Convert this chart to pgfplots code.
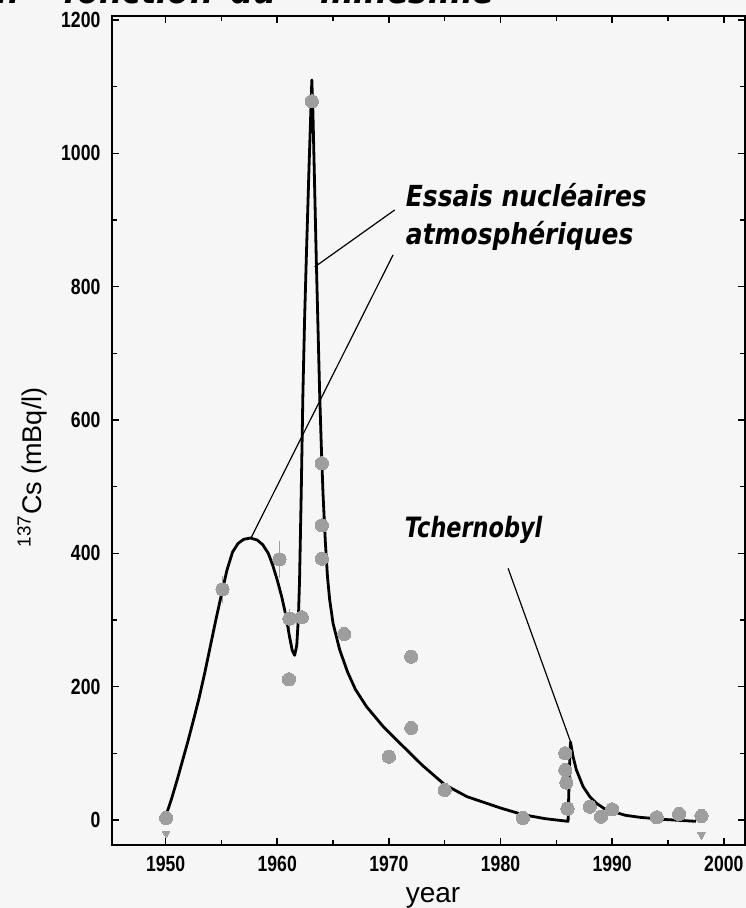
\documentclass[border=0pt]{standalone}
\usepackage{fontspec}
\setmainfont{Liberation Sans}
\newfontfamily\comic{DejaVu Sans}
\usepackage{pgfplots}
\pgfplotsset{compat=1.18}
\usetikzlibrary{calc}
\definecolor{dotgray}{RGB}{158,158,158}
\definecolor{bggray}{RGB}{246,246,246}

\begin{document}
\begin{tikzpicture}
\fill[bggray] (-56pt,-31.5pt) rectangle (316.9pt,422.5pt);
\begin{axis}[
	name=ax, at={(0,0)}, anchor=south west,
	scale only axis, width=316.5pt, height=414.5pt,
	xmin=1945.2, xmax=2001.9, ymin=-37.5, ymax=1206,
	xtick={1950,1960,...,2000}, ytick={0,200,...,1200},
	minor x tick num=1, minor y tick num=1,
	major tick length=3.5pt, minor tick length=2.5pt,
	tick style={black, line width=0.8pt},
	axis line style={line width=1pt},
	/pgf/number format/assume math mode=true,
	/pgf/number format/1000 sep={},
	xticklabel style={font=\bfseries\fontsize{11}{12}\selectfont, yshift=-2pt, xscale=0.8},
	yticklabel style={font=\bfseries\fontsize{11}{12}\selectfont, xshift=-3pt, xscale=0.8},
	clip=false,
]
% error bars
\addplot[dotgray, only marks, mark=none,
	error bars/.cd, y dir=both, y explicit,
	error bar style={line width=0.5pt, dotgray}, error mark=none]
	coordinates {(1955.1,346) +- (0,20) (1960.2,391) +- (0,28) (1961.1,302) +- (0,15)};
% measurements
\addplot[dotgray, only marks, mark=*, mark size=3.3pt, mark options={fill=dotgray, draw=dotgray, line width=0pt}] coordinates {
	(1950.05,3) (1955.1,346) (1960.2,391) (1961.1,302) (1962.2,304) (1961.05,211)
	(1963.1,1078) (1964.0,535) (1964.0,442) (1964.0,392) (1966.0,279)
	(1970.0,95) (1972.0,245) (1972.0,138) (1975.0,45) (1982.0,3)
	(1985.8,100) (1985.8,75) (1985.9,56) (1986.0,17) (1988.0,20) (1989.0,5)
	(1990.0,16) (1994.0,4) (1996.0,9) (1998.0,6)
};
% upper limits
\addplot[dotgray, only marks, mark=triangle*, mark size=2.2pt, mark options={rotate=180, fill=dotgray, draw=dotgray, line width=0pt}] coordinates {
	(1950.05,-20) (1998.0,-22)
};
% model curve
\addplot[black, line width=1.4pt, line join=round] coordinates {
	(1950.0,5) (1950.5,30) (1951,58) (1951.5,88) (1952,118) (1952.5,150)
	(1953,183) (1953.5,220) (1954,260) (1954.5,300) (1955,338) (1955.5,375)
	(1956,402) (1956.5,415) (1957,421) (1957.6,423) (1958.2,420) (1958.7,413)
	(1959.2,400) (1959.6,382) (1960,360) (1960.4,335) (1960.8,305) (1961.1,275)
	(1961.35,254) (1961.56,247) (1961.75,262) (1961.9,305) (1962.0,360)
	(1962.15,490) (1962.3,640) (1962.45,750) (1962.6,840) (1962.85,980)
	(1963.1,1110) (1963.2,1060) (1963.35,950) (1963.5,840) (1963.65,740)
	(1963.8,640) (1963.95,560) (1964.1,490) (1964.3,420) (1964.5,365)
	(1964.7,330) (1965.0,295) (1965.6,255) (1966.3,222) (1967,196) (1968,170)
	(1969.5,140) (1971,115) (1973,82) (1975,53) (1977,35) (1980,18) (1982,8)
	(1984,2) (1986.05,-2) (1986.1,30) (1986.2,90) (1986.27,117) (1986.5,95)
	(1986.8,75) (1987.4,50) (1988,35) (1988.6,25) (1989.3,17) (1990.1,12.5)
	(1991.2,7) (1992.5,4) (1994.5,1) (1997.5,-2)
};
% annotations
\draw[line width=0.6pt] (axis cs:1970.52,915) -- (axis cs:1963.35,829.5);
\draw[line width=0.6pt] (axis cs:1970.37,847.5) -- (axis cs:1957.68,424);
\draw[line width=0.6pt] (axis cs:1980.68,377.5) -- (axis cs:1986.27,117.5);
\node[anchor=base west, inner sep=0pt, xscale=0.86, font=\comic\bfseries\itshape\fontsize{14.5}{16}\selectfont]
	at (axis cs:1971.5,919.5) {Essais nucléaires};
\node[anchor=base west, inner sep=0pt, xscale=0.86, font=\comic\bfseries\itshape\fontsize{14.5}{16}\selectfont]
	at (axis cs:1971.5,862.5) {atmosphériques};
\node[anchor=base west, inner sep=0pt, xscale=0.8, font=\comic\bfseries\itshape\fontsize{14}{16}\selectfont]
	at (axis cs:1971.4,423) {Tchernobyl};
\end{axis}
% axis titles
\node[rotate=90, font=\fontsize{13.5}{15}\selectfont] at (-40pt,188.75pt) {\textsuperscript{137}Cs (mBq/l)};
\node[anchor=base, font=\fontsize{14}{16}\selectfont] at (160.5pt,-28.5pt) {year};
% partly cut-off heading
\begin{scope}[every node/.style={anchor=base west, inner sep=0pt, xscale=0.92, font=\comic\bfseries\itshape\fontsize{17.5}{19}\selectfont}]
\node[anchor=base east] at (-46pt,420.8pt) {en};
\node at (-24.5pt,420.8pt) {fonction};
\node at (59pt,420.8pt) {du};
\node at (104pt,420.8pt) {millésime};
\end{scope}
\pgfresetboundingbox
\path[use as bounding box] (-56pt,-31.5pt) rectangle (316.9pt,422.5pt);
\end{tikzpicture}
\end{document}
